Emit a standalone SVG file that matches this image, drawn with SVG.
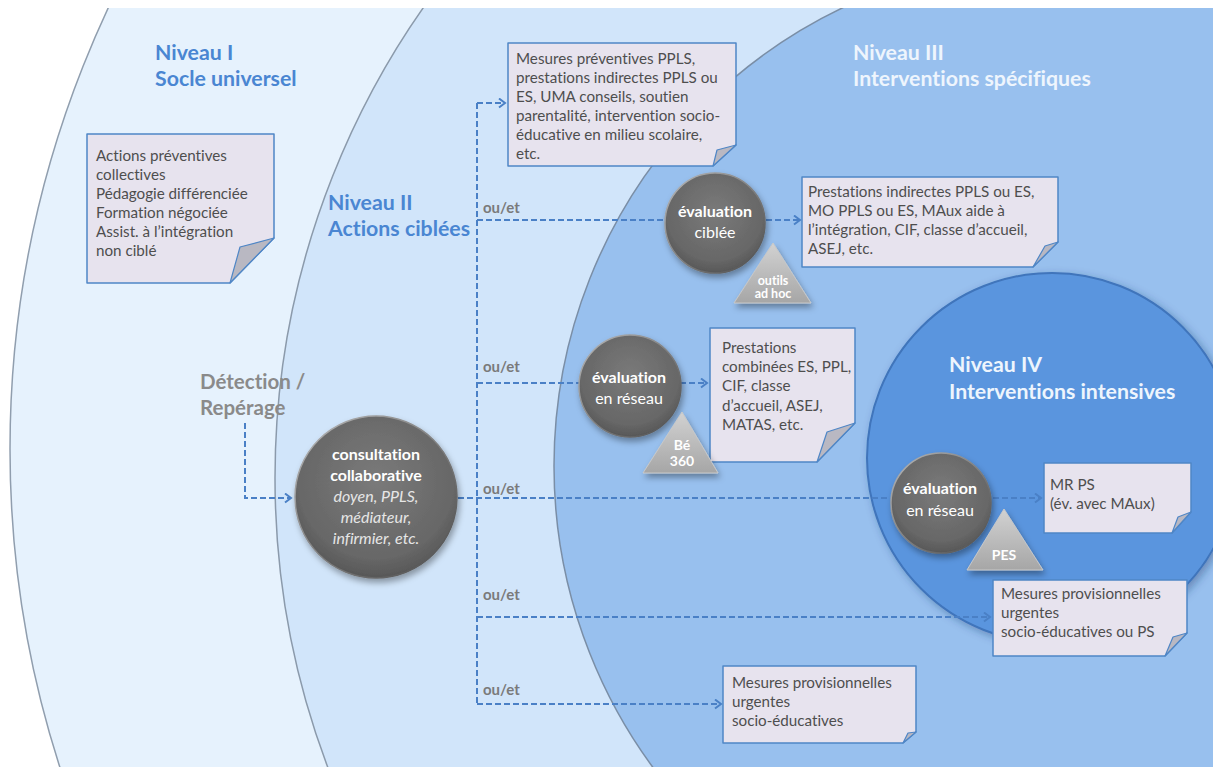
<svg xmlns="http://www.w3.org/2000/svg" width="1213" height="767" viewBox="0 0 1213 767">
<style>
.t{font-family:Lato,"Liberation Sans",sans-serif;font-variant-ligatures:none}
.lvl{font-weight:bold;font-size:21.3px;fill:#4a86d2}
.lvlw{font-weight:bold;font-size:21.3px;fill:#eef5fd}
.det{font-weight:bold;font-size:20.5px;fill:#8a8a8a}
.note{fill:#e7e3ee;stroke:#4f86c6;stroke-width:1.5;stroke-linejoin:round}
.fold{fill:#b9b8c2;stroke:#4f86c6;stroke-width:1.2;stroke-linejoin:round}
.nt{font-size:15.2px;fill:#4e4e4e}
.conn{fill:none;stroke:#4a80c6;stroke-width:2;stroke-dasharray:6 3}
.arr{marker-end:url(#arrow)}
.oe{font-weight:bold;font-size:15px;fill:#7a7a7a}
.gc{fill:url(#gray);stroke:url(#rim);stroke-width:1.5;filter:url(#sh)}
.ct{fill:#ffffff;font-size:16px;text-anchor:middle}
.ctb{font-weight:bold}
.cti{font-style:italic;fill:#e6e6e6}
.tri{fill:url(#trig);stroke:#c8c8c8;stroke-width:1;filter:url(#sh)}
.tt{fill:#ffffff;font-weight:bold;text-anchor:middle}
</style>
<defs>
<clipPath id="clip"><rect x="0" y="8" width="1213" height="759"/></clipPath>
<radialGradient id="gray" cx="50%" cy="40%" r="60%">
<stop offset="0" stop-color="#7a7a7a"/>
<stop offset="0.8" stop-color="#676767"/>
<stop offset="1" stop-color="#575757"/>
</radialGradient>
<linearGradient id="rim" x1="0" y1="0" x2="1" y2="1">
<stop offset="0" stop-color="#b8b8b8"/>
<stop offset="1" stop-color="#4a4a4a"/>
</linearGradient>
<linearGradient id="trig" x1="0" y1="0" x2="0" y2="1">
<stop offset="0" stop-color="#d2d2d2"/>
<stop offset="1" stop-color="#a6a6a6"/>
</linearGradient>
<filter id="sh" x="-30%" y="-30%" width="160%" height="160%">
<feDropShadow dx="2" dy="4" stdDeviation="3" flood-color="#000" flood-opacity="0.35"/>
</filter>
<filter id="sh4" x="-20%" y="-20%" width="140%" height="140%">
<feDropShadow dx="3" dy="3" stdDeviation="4" flood-color="#1a3a6a" flood-opacity="0.4"/>
</filter>
<marker id="arrow" markerUnits="userSpaceOnUse" markerWidth="12" markerHeight="12" refX="7" refY="5" orient="auto">
<path d="M1,0.5 L7,5 L1,9.5" fill="none" stroke="#4a80c6" stroke-width="2"/>
</marker>
</defs>
<rect width="1213" height="767" fill="#ffffff"/>
<g id="levels" clip-path="url(#clip)">
<circle id="level1" cx="1049" cy="449" r="1039" fill="#e6f2fd" stroke="#909eae" stroke-width="1.5"/>
<circle id="level2" cx="1094" cy="478" r="819" fill="#d1e5fa" stroke="#8b9aab" stroke-width="1.5"/>
<circle id="level3" cx="1062" cy="466" r="508" fill="#98c0ee" stroke="#7a8ea6" stroke-width="1.5"/>
<circle id="level4" cx="1052" cy="458" r="185" fill="#5a95de" stroke="#3f74bb" stroke-width="2" filter="url(#sh4)"/>
</g>
<g id="labels" class="t">
<text class="lvl" x="155" y="60">Niveau I</text>
<text class="lvl" x="155" y="86">Socle universel</text>
<text class="lvl" x="328" y="210">Niveau II</text>
<text class="lvl" x="328" y="236">Actions ciblées</text>
<text class="lvlw" x="853" y="60">Niveau III</text>
<text class="lvlw" x="853" y="86">Interventions spécifiques</text>
<text class="lvlw" x="949" y="372">Niveau IV</text>
<text class="lvlw" x="949" y="399">Interventions intensives</text>
<text class="det" x="200" y="389">Détection /</text>
<text class="det" x="200" y="415">Repérage</text>
</g>
<g id="connectors">
<path class="conn arr" d="M245,423 V498 H291"/>
<path class="conn" d="M458,498 H890"/>
<path class="conn" d="M477,103 V704"/>
<path class="conn arr" d="M477,103 H505"/>
<path class="conn" d="M477,220 H665"/>
<path class="conn arr" d="M766,220 H800"/>
<path class="conn" d="M477,383 H580"/>
<path class="conn arr" d="M680,383 H707"/>
<path class="conn arr" d="M993,498 H1041"/>
<path class="conn arr" d="M477,617 H990"/>
<path class="conn arr" d="M477,704 H721"/>
<g class="t oe">
<text x="483" y="213">ou/et</text>
<text x="483" y="372">ou/et</text>
<text x="483" y="494">ou/et</text>
<text x="483" y="600">ou/et</text>
<text x="483" y="695">ou/et</text>
</g>
</g>
<g id="note-niveau1">
<path class="note" d="M87,134 H274 V238 L230,283 H87 Z"/>
<path class="fold" d="M274,238 L240,247 L230,283 Z"/>
<text class="t nt" x="96"><tspan x="96" y="161">Actions préventives</tspan><tspan x="96" y="180">collectives</tspan><tspan x="96" y="199">Pédagogie différenciée</tspan><tspan x="96" y="218">Formation négociée</tspan><tspan x="96" y="237">Assist. à l’intégration</tspan><tspan x="96" y="256">non ciblé</tspan></text>
</g>
<g id="note-mesures-preventives">
<path class="note" d="M508,43 H736 V145 L713,166 H508 Z"/>
<path class="fold" d="M736,145 L717,150 L713,166 Z"/>
<text class="t nt"><tspan x="516" y="64">Mesures préventives PPLS,</tspan><tspan x="516" y="83">prestations indirectes PPLS ou</tspan><tspan x="516" y="102">ES, UMA conseils, soutien</tspan><tspan x="516" y="121">parentalité, intervention socio-</tspan><tspan x="516" y="140">éducative en milieu scolaire,</tspan><tspan x="516" y="159">etc.</tspan></text>
</g>
<g id="note-prestations-indirectes">
<path class="note" d="M802,177 H1058 V242 L1033,267 H802 Z"/>
<path class="fold" d="M1058,242 L1045,246 L1033,267 Z"/>
<text class="t nt"><tspan x="808" y="197">Prestations indirectes PPLS ou ES,</tspan><tspan x="808" y="216">MO PPLS ou ES, MAux aide à</tspan><tspan x="808" y="235">l’intégration, CIF, classe d’accueil,</tspan><tspan x="808" y="254">ASEJ, etc.</tspan></text>
</g>
<g id="note-prestations-combinees">
<path class="note" d="M710,328 H855 V423 L817,462 H710 Z"/>
<path class="fold" d="M855,423 L827,432 L817,462 Z"/>
<text class="t nt"><tspan x="722" y="353">Prestations</tspan><tspan x="722" y="372">combinées ES, PPL,</tspan><tspan x="722" y="391">CIF, classe</tspan><tspan x="722" y="411">d’accueil, ASEJ,</tspan><tspan x="722" y="430">MATAS, etc.</tspan></text>
</g>
<g id="note-mr-ps">
<path class="note" d="M1044,463 H1191 V512 L1172,533 H1044 Z"/>
<path class="fold" d="M1191,512 L1178,517 L1172,533 Z"/>
<text class="t nt"><tspan x="1050" y="490">MR PS</tspan><tspan x="1050" y="509">(év. avec MAux)</tspan></text>
</g>
<g id="note-mesures-ps">
<path class="note" d="M993,580 H1187 V633 L1165,656 H993 Z"/>
<path class="fold" d="M1187,633 L1173,637 L1165,656 Z"/>
<text class="t nt"><tspan x="1001" y="599">Mesures provisionnelles</tspan><tspan x="1001" y="618">urgentes</tspan><tspan x="1001" y="637">socio-éducatives ou PS</tspan></text>
</g>
<g id="note-mesures-socio">
<path class="note" d="M723,666 H916 V732 L903,743 H723 Z"/>
<path class="fold" d="M916,732 L908,733 L903,743 Z"/>
<text class="t nt"><tspan x="732" y="688">Mesures provisionnelles</tspan><tspan x="732" y="707">urgentes</tspan><tspan x="732" y="726">socio-éducatives</tspan></text>
</g>
<g id="node-consultation">
<circle class="gc" cx="376" cy="497" r="81"/>
<text class="t ct ctb" x="376" y="460">consultation</text>
<text class="t ct ctb" x="376" y="481">collaborative</text>
<text class="t ct cti" x="376" y="502">doyen, PPLS,</text>
<text class="t ct cti" x="376" y="523">médiateur,</text>
<text class="t ct cti" x="376" y="544">infirmier, etc.</text>
</g>
<g id="node-eval-ciblee">
<circle class="gc" cx="715" cy="223" r="50"/>
<text class="t ct ctb" x="715" y="217">évaluation</text>
<text class="t ct" x="715" y="238">ciblée</text>
</g>
<g id="node-outils">
<path class="tri" d="M773,243 L811,303 L734,303 Z"/>
<text class="t tt" x="773" y="285" font-size="12.5">outils</text>
<text class="t tt" x="773" y="298" font-size="12.5">ad hoc</text>
</g>
<g id="node-eval-reseau">
<circle class="gc" cx="630" cy="386" r="51"/>
<text class="t ct ctb" x="629" y="383">évaluation</text>
<text class="t ct" x="629" y="404">en réseau</text>
</g>
<g id="node-be360">
<path class="tri" d="M682,412 L718,473 L643,473 Z"/>
<text class="t tt" x="682" y="450" font-size="14">Bé</text>
<text class="t tt" x="682" y="466" font-size="14">360</text>
</g>
<g id="node-eval-reseau-4">
<circle class="gc" cx="941" cy="503" r="50"/>
<text class="t ct ctb" x="940" y="494">évaluation</text>
<text class="t ct" x="940" y="516">en réseau</text>
</g>
<g id="node-pes">
<path class="tri" d="M1004,509 L1043,570 L967,570 Z"/>
<text class="t tt" x="1004" y="560" font-size="14">PES</text>
</g>
</svg>
